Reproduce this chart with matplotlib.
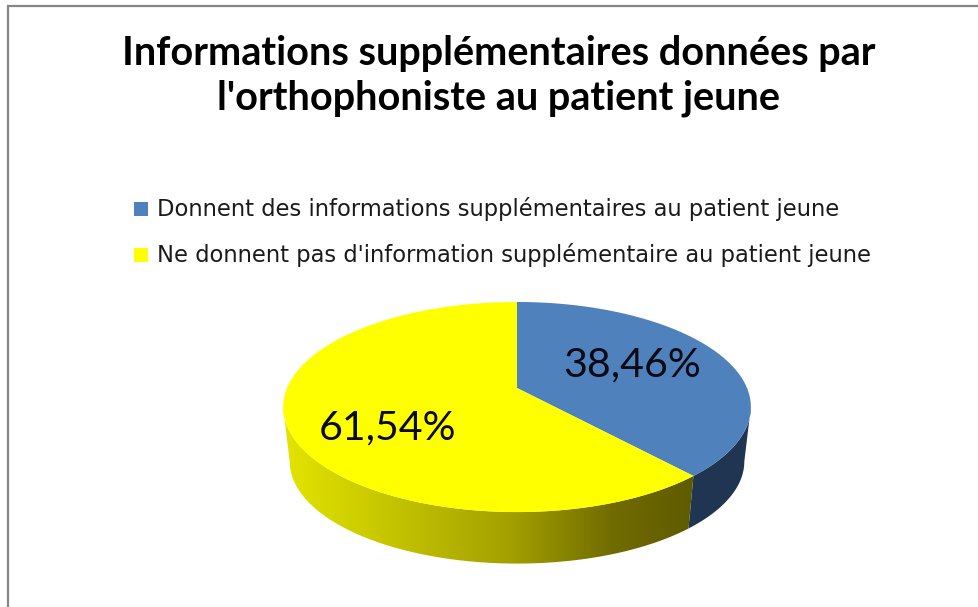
import numpy as np
import matplotlib
matplotlib.use('Agg')
import matplotlib.pyplot as plt
from matplotlib.colors import LinearSegmentedColormap
from matplotlib.patches import Polygon, Rectangle

title = "Informations supplémentaires données par\nl'orthophoniste au patient jeune"
categories = ["Donnent des informations supplémentaires au patient jeune",
              "Ne donnent pas d'information supplémentaire au patient jeune"]
values = [38.46, 61.54]
labels = ["38,46%", "61,54%"]
colors = ['#4F81BD', '#FFFF00']

W, H = 979, 607
fig = plt.figure(figsize=(W / 100, H / 100), dpi=100)
ax = fig.add_axes([0, 0, 1, 1])
ax.set_xlim(0, W)
ax.set_ylim(H, 0)
ax.axis('off')

# chart frame, only top and left are inside the crop
ax.plot([8, 8, W + 5], [H + 5, 6, 6], color='#868686', lw=1.6, solid_joinstyle='miter')

CX, CY = 517, 388
A, B, K = 230, 101.6, 0.181


def rim(start, end, scale=1.0, drop=0.0, n=200):
    # angles in degrees clockwise from 12 o'clock, tilted with a simple perspective
    t = np.radians(np.linspace(start, end, n))
    x, y = np.sin(t), np.cos(t)
    d = 1 + K * y
    return np.column_stack([CX + scale * A * x / d, CY - scale * B * y / d + drop])


angles = np.concatenate([[0], np.cumsum(values) / np.sum(values) * 360])
LOW_SCALE, LOW_DROP = 0.972, 55

# where the outline of the disc turns back, the wall is only visible between these
turn = np.degrees(np.arccos(-K))
vis_start, vis_end = turn, 360 - turn

# side walls first
blue_side = np.vstack([rim(vis_start, angles[1]),
                       rim(vis_start, angles[1], LOW_SCALE, LOW_DROP)[::-1]])
ax.add_patch(Polygon(blue_side, closed=True, fc='#1F3552', ec='none', zorder=2))

yellow_side = np.vstack([rim(angles[1], vis_end),
                         rim(angles[1], vis_end, LOW_SCALE, LOW_DROP)[::-1]])
side_patch = Polygon(yellow_side, closed=True, fc='none', ec='none', zorder=2)
ax.add_patch(side_patch)
side_cmap = LinearSegmentedColormap.from_list('side', [
    (0.0, '#E4E400'), (0.25, '#C6C600'), (0.55, '#A3A000'),
    (0.8, '#716C00'), (1.0, '#5E5A00')])
grad = ax.imshow(np.linspace(0, 1, 256)[None, :], cmap=side_cmap, aspect='auto',
                 extent=[283, 695, 570, 400], zorder=2)
grad.set_clip_path(side_patch)
ax.set_xlim(0, W)
ax.set_ylim(H, 0)

# top face
for i in range(2):
    pts = np.vstack([[CX, CY], rim(angles[i], angles[i + 1])])
    ax.add_patch(Polygon(pts, closed=True, fc=colors[i], ec='none', zorder=3))

ax.text(632, 365, labels[0], fontsize=29.6, family='Lato', color='#0A0A14',
        ha='center', va='center', zorder=4)
ax.text(388, 428, labels[1], fontsize=29.6, family='Lato', color='#0A0A14',
        ha='center', va='center', zorder=4)

ax.text(499, 76, title, fontsize=28.5, family='Lato', weight='bold', color='black',
        ha='center', va='center', linespacing=1.27, zorder=4)

for i, y in enumerate([209, 255]):
    ax.add_patch(Rectangle((134, y - 7), 14, 14, fc=colors[i], ec='none', zorder=4))
    ax.text(157, y, categories[i], fontsize=16.3, family='DejaVu Sans', color='#1A1A1A',
            ha='left', va='center', zorder=4)

plt.savefig('out.png', dpi=100)
